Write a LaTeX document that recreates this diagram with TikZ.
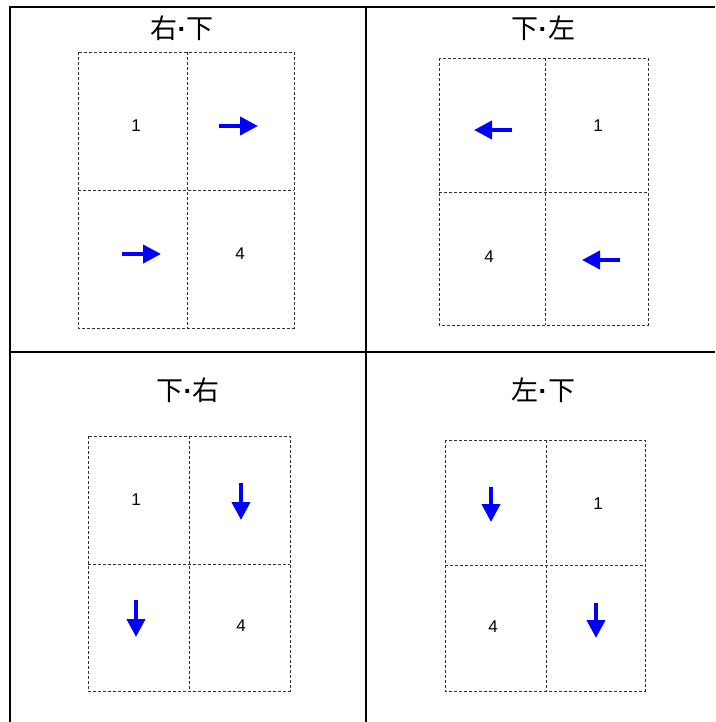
\documentclass[tikz,border=0pt]{standalone}
\usepackage{fontspec}
\setmainfont{Liberation Sans}
\newfontfamily\cjk{Noto Sans CJK SC}
\newcommand{\tdot}{{\rmfamily\bfseries\kern0.5pt·\kern0.5pt}}
\usetikzlibrary{arrows.meta}
\tikzset{
  frame/.style={line width=2.2pt, black},
  cell/.style={draw, dash pattern=on 3pt off 2pt, line width=0.7pt, black!80},
  num/.style={font=\fontsize{17}{17}\selectfont, inner sep=0pt},
  title/.style={font=\cjk\fontsize{27}{27}\selectfont, inner sep=0pt},
  bluearrow/.style={blue, line width=4pt, -{Triangle[length=18pt,width=18pt]}, shorten >=-1pt},
}
\begin{document}
\begin{tikzpicture}[x=1pt,y=-1pt]
\useasboundingbox (0,0) rectangle (715,722);
% frame
\coordinate (tl) at (10,7);
\coordinate (tr) at (715,7);
\coordinate (bl) at (10,722);
\coordinate (mt) at (366,7);
\coordinate (mb) at (366,722);
\coordinate (ml) at (10,352);
\coordinate (mr) at (715,352);
\draw[frame] (tr) -- (tl) -- (bl);
\draw[frame] (mt) -- (mb);
\draw[frame] (ml) -- (mr);

% Panel 1
\node[title] (t1) at (182,28) {右\tdot 下};
\draw[cell] (78,52) rectangle (294,328);
\draw[cell] (187,52) -- (187,328);
\draw[cell] (78,190) -- (294,190);
\node[num] (n1a) at (136,126) {1};
\node[num] (n1b) at (240,254) {4};
\coordinate (a1s) at (219,126); \coordinate (a1e) at (257,126);
\coordinate (a2s) at (122,254); \coordinate (a2e) at (160,254);
\draw[bluearrow] (a1s) -- (a1e);
\draw[bluearrow] (a2s) -- (a2e);

% Panel 2
\node[title] (t2) at (543,28) {下\tdot 左};
\draw[cell] (439,58) rectangle (648,325);
\draw[cell] (545,58) -- (545,325);
\draw[cell] (439,192) -- (648,192);
\node[num] (n2a) at (598,126) {1};
\node[num] (n2b) at (489,257) {4};
\coordinate (b1s) at (512,130); \coordinate (b1e) at (475,130);
\coordinate (b2s) at (620,260); \coordinate (b2e) at (583,260);
\draw[bluearrow] (b1s) -- (b1e);
\draw[bluearrow] (b2s) -- (b2e);

% Panel 3
\node[title] (t3) at (188,390) {下\tdot 右};
\draw[cell] (88,436) rectangle (290,691);
\draw[cell] (189,436) -- (189,691);
\draw[cell] (88,564) -- (290,564);
\node[num] (n3a) at (136,500) {1};
\node[num] (n3b) at (241,626) {4};
\coordinate (c1s) at (241,483); \coordinate (c1e) at (241,519);
\coordinate (c2s) at (136,600); \coordinate (c2e) at (136,636);
\draw[bluearrow] (c1s) -- (c1e);
\draw[bluearrow] (c2s) -- (c2e);

% Panel 4
\node[title] (t4) at (543,390) {左\tdot 下};
\draw[cell] (445,440) rectangle (645,691);
\draw[cell] (546,440) -- (546,691);
\draw[cell] (445,565) -- (645,565);
\node[num] (n4a) at (598,504) {1};
\node[num] (n4b) at (493,627) {4};
\coordinate (d1s) at (491,487); \coordinate (d1e) at (491,521);
\coordinate (d2s) at (596,603); \coordinate (d2e) at (596,637);
\draw[bluearrow] (d1s) -- (d1e);
\draw[bluearrow] (d2s) -- (d2e);
\end{tikzpicture}
\end{document}
